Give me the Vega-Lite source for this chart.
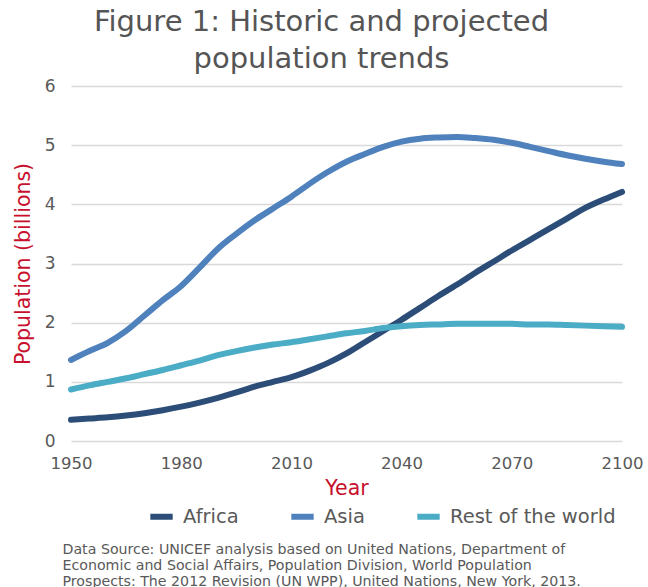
{
  "$schema": "https://vega.github.io/schema/vega-lite/v6.json",
  "width": 551,
  "height": 355,
  "autosize": {"type": "none"},
  "padding": {"left": 71, "top": 86, "right": 26, "bottom": 146},
  "background": "white",
  "config": {
    "font": "DejaVu Sans",
    "view": {"stroke": null}
  },
  "title": {
    "text": ["Figure 1: Historic and projected", "population trends"],
    "fontSize": 29,
    "fontWeight": "normal",
    "color": "#555555",
    "anchor": "middle",
    "dx": -25,
    "offset": 3,
    "lineHeight": 37
  },
  "datasets": {
    "pop": [
      {"year": 1950, "region": "Africa", "value": 0.36},
      {"year": 1955, "region": "Africa", "value": 0.38},
      {"year": 1960, "region": "Africa", "value": 0.40},
      {"year": 1965, "region": "Africa", "value": 0.43},
      {"year": 1970, "region": "Africa", "value": 0.47},
      {"year": 1975, "region": "Africa", "value": 0.52},
      {"year": 1980, "region": "Africa", "value": 0.58},
      {"year": 1985, "region": "Africa", "value": 0.65},
      {"year": 1990, "region": "Africa", "value": 0.73},
      {"year": 1995, "region": "Africa", "value": 0.82},
      {"year": 2000, "region": "Africa", "value": 0.92},
      {"year": 2005, "region": "Africa", "value": 1.00},
      {"year": 2010, "region": "Africa", "value": 1.08},
      {"year": 2015, "region": "Africa", "value": 1.19},
      {"year": 2020, "region": "Africa", "value": 1.32},
      {"year": 2025, "region": "Africa", "value": 1.48},
      {"year": 2030, "region": "Africa", "value": 1.67},
      {"year": 2035, "region": "Africa", "value": 1.86},
      {"year": 2040, "region": "Africa", "value": 2.05},
      {"year": 2045, "region": "Africa", "value": 2.25},
      {"year": 2050, "region": "Africa", "value": 2.45},
      {"year": 2055, "region": "Africa", "value": 2.64},
      {"year": 2060, "region": "Africa", "value": 2.84},
      {"year": 2065, "region": "Africa", "value": 3.03},
      {"year": 2070, "region": "Africa", "value": 3.22},
      {"year": 2075, "region": "Africa", "value": 3.40},
      {"year": 2080, "region": "Africa", "value": 3.58},
      {"year": 2085, "region": "Africa", "value": 3.76},
      {"year": 2090, "region": "Africa", "value": 3.94},
      {"year": 2095, "region": "Africa", "value": 4.08},
      {"year": 2100, "region": "Africa", "value": 4.21},
      {"year": 1950, "region": "Asia", "value": 1.37},
      {"year": 1955, "region": "Asia", "value": 1.52},
      {"year": 1960, "region": "Asia", "value": 1.66},
      {"year": 1965, "region": "Asia", "value": 1.86},
      {"year": 1970, "region": "Asia", "value": 2.12},
      {"year": 1975, "region": "Asia", "value": 2.38},
      {"year": 1980, "region": "Asia", "value": 2.62},
      {"year": 1985, "region": "Asia", "value": 2.93},
      {"year": 1990, "region": "Asia", "value": 3.25},
      {"year": 1995, "region": "Asia", "value": 3.50},
      {"year": 2000, "region": "Asia", "value": 3.73},
      {"year": 2005, "region": "Asia", "value": 3.93},
      {"year": 2010, "region": "Asia", "value": 4.13},
      {"year": 2015, "region": "Asia", "value": 4.35},
      {"year": 2020, "region": "Asia", "value": 4.55},
      {"year": 2025, "region": "Asia", "value": 4.72},
      {"year": 2030, "region": "Asia", "value": 4.85},
      {"year": 2035, "region": "Asia", "value": 4.97},
      {"year": 2040, "region": "Asia", "value": 5.06},
      {"year": 2045, "region": "Asia", "value": 5.11},
      {"year": 2050, "region": "Asia", "value": 5.13},
      {"year": 2055, "region": "Asia", "value": 5.14},
      {"year": 2060, "region": "Asia", "value": 5.12},
      {"year": 2065, "region": "Asia", "value": 5.09},
      {"year": 2070, "region": "Asia", "value": 5.04},
      {"year": 2075, "region": "Asia", "value": 4.97},
      {"year": 2080, "region": "Asia", "value": 4.90},
      {"year": 2085, "region": "Asia", "value": 4.83},
      {"year": 2090, "region": "Asia", "value": 4.77},
      {"year": 2095, "region": "Asia", "value": 4.72},
      {"year": 2100, "region": "Asia", "value": 4.68},
      {"year": 1950, "region": "Rest of the world", "value": 0.87},
      {"year": 1955, "region": "Rest of the world", "value": 0.94},
      {"year": 1960, "region": "Rest of the world", "value": 1.00},
      {"year": 1965, "region": "Rest of the world", "value": 1.06},
      {"year": 1970, "region": "Rest of the world", "value": 1.13},
      {"year": 1975, "region": "Rest of the world", "value": 1.20},
      {"year": 1980, "region": "Rest of the world", "value": 1.28},
      {"year": 1985, "region": "Rest of the world", "value": 1.36},
      {"year": 1990, "region": "Rest of the world", "value": 1.45},
      {"year": 1995, "region": "Rest of the world", "value": 1.52},
      {"year": 2000, "region": "Rest of the world", "value": 1.58},
      {"year": 2005, "region": "Rest of the world", "value": 1.63},
      {"year": 2010, "region": "Rest of the world", "value": 1.67},
      {"year": 2015, "region": "Rest of the world", "value": 1.72},
      {"year": 2020, "region": "Rest of the world", "value": 1.77},
      {"year": 2025, "region": "Rest of the world", "value": 1.82},
      {"year": 2030, "region": "Rest of the world", "value": 1.86},
      {"year": 2035, "region": "Rest of the world", "value": 1.91},
      {"year": 2040, "region": "Rest of the world", "value": 1.94},
      {"year": 2045, "region": "Rest of the world", "value": 1.96},
      {"year": 2050, "region": "Rest of the world", "value": 1.97},
      {"year": 2055, "region": "Rest of the world", "value": 1.98},
      {"year": 2060, "region": "Rest of the world", "value": 1.98},
      {"year": 2065, "region": "Rest of the world", "value": 1.98},
      {"year": 2070, "region": "Rest of the world", "value": 1.98},
      {"year": 2075, "region": "Rest of the world", "value": 1.97},
      {"year": 2080, "region": "Rest of the world", "value": 1.97},
      {"year": 2085, "region": "Rest of the world", "value": 1.96},
      {"year": 2090, "region": "Rest of the world", "value": 1.95},
      {"year": 2095, "region": "Rest of the world", "value": 1.94},
      {"year": 2100, "region": "Rest of the world", "value": 1.93}
    ]
  },
  "data": {"name": "pop"},
  "resolve": {"axis": {"x": "independent"}},
  "layer": [
    {
      "mark": {"type": "line", "strokeWidth": 6, "strokeCap": "round", "strokeJoin": "round", "interpolate": "monotone"},
      "encoding": {
        "x": {
          "field": "year", "type": "quantitative",
          "scale": {"domain": [1950, 2100], "nice": false, "zero": false},
          "axis": {
            "title": "Year", "titleColor": "#c8102e", "titleFontSize": 20.5, "titleFontWeight": "normal",
            "titlePadding": 7,
            "values": [1950, 1980, 2010, 2040, 2070, 2100], "format": "d",
            "labelFontSize": 16.5, "labelColor": "#595959", "labelPadding": 14,
            "domain": false, "ticks": false, "grid": false, "labelFlush": false
          }
        },
        "y": {
          "field": "value", "type": "quantitative",
          "scale": {"domain": [0, 6], "nice": false},
          "axis": {
            "title": "Population (billions)", "titleColor": "#c8102e", "titleFontSize": 20.5, "titleFontWeight": "normal",
            "titlePadding": 11,
            "values": [0, 1, 2, 3, 4, 5, 6],
            "labelFontSize": 17, "labelColor": "#595959", "labelPadding": 16,
            "domain": false, "ticks": false,
            "grid": true, "gridColor": "#d9d9d9", "gridWidth": 1.5
          }
        },
        "color": {
          "field": "region", "type": "nominal",
          "scale": {"domain": ["Africa", "Asia", "Rest of the world"], "range": ["#2c4d78", "#4f81bd", "#4bacc6"]},
          "legend": {
            "title": null, "orient": "none", "direction": "horizontal",
            "legendX": 76, "legendY": 416,
            "symbolType": "stroke", "symbolStrokeWidth": 6, "symbolSize": 500,
            "labelFontSize": 19.5, "labelColor": "#595959", "labelOffset": 7, "labelLimit": 300,
            "columnPadding": 40
          }
        }
      }
    },
    {
      "mark": {"type": "point", "opacity": 0},
      "encoding": {
        "x": {
          "field": "year", "type": "quantitative",
          "scale": {"domain": [1950, 2100], "nice": false, "zero": false},
          "axis": {
            "orient": "top",
            "title": [
              "Data Source:  UNICEF analysis based on United Nations, Department of",
              "Economic and Social Affairs, Population Division, World Population",
              "Prospects: The 2012 Revision (UN WPP), United Nations, New York, 2013."
            ],
            "titleFontSize": 14.2, "titleFontWeight": "normal", "titleColor": "#595959",
            "titleAlign": "left", "titleAnchor": null, "titleBaseline": "alphabetic",
            "titleX": -9, "titleY": 467, "titleLineHeight": 16,
            "labels": false, "ticks": false, "domain": false, "grid": false
          }
        }
      }
    }
  ]
}
